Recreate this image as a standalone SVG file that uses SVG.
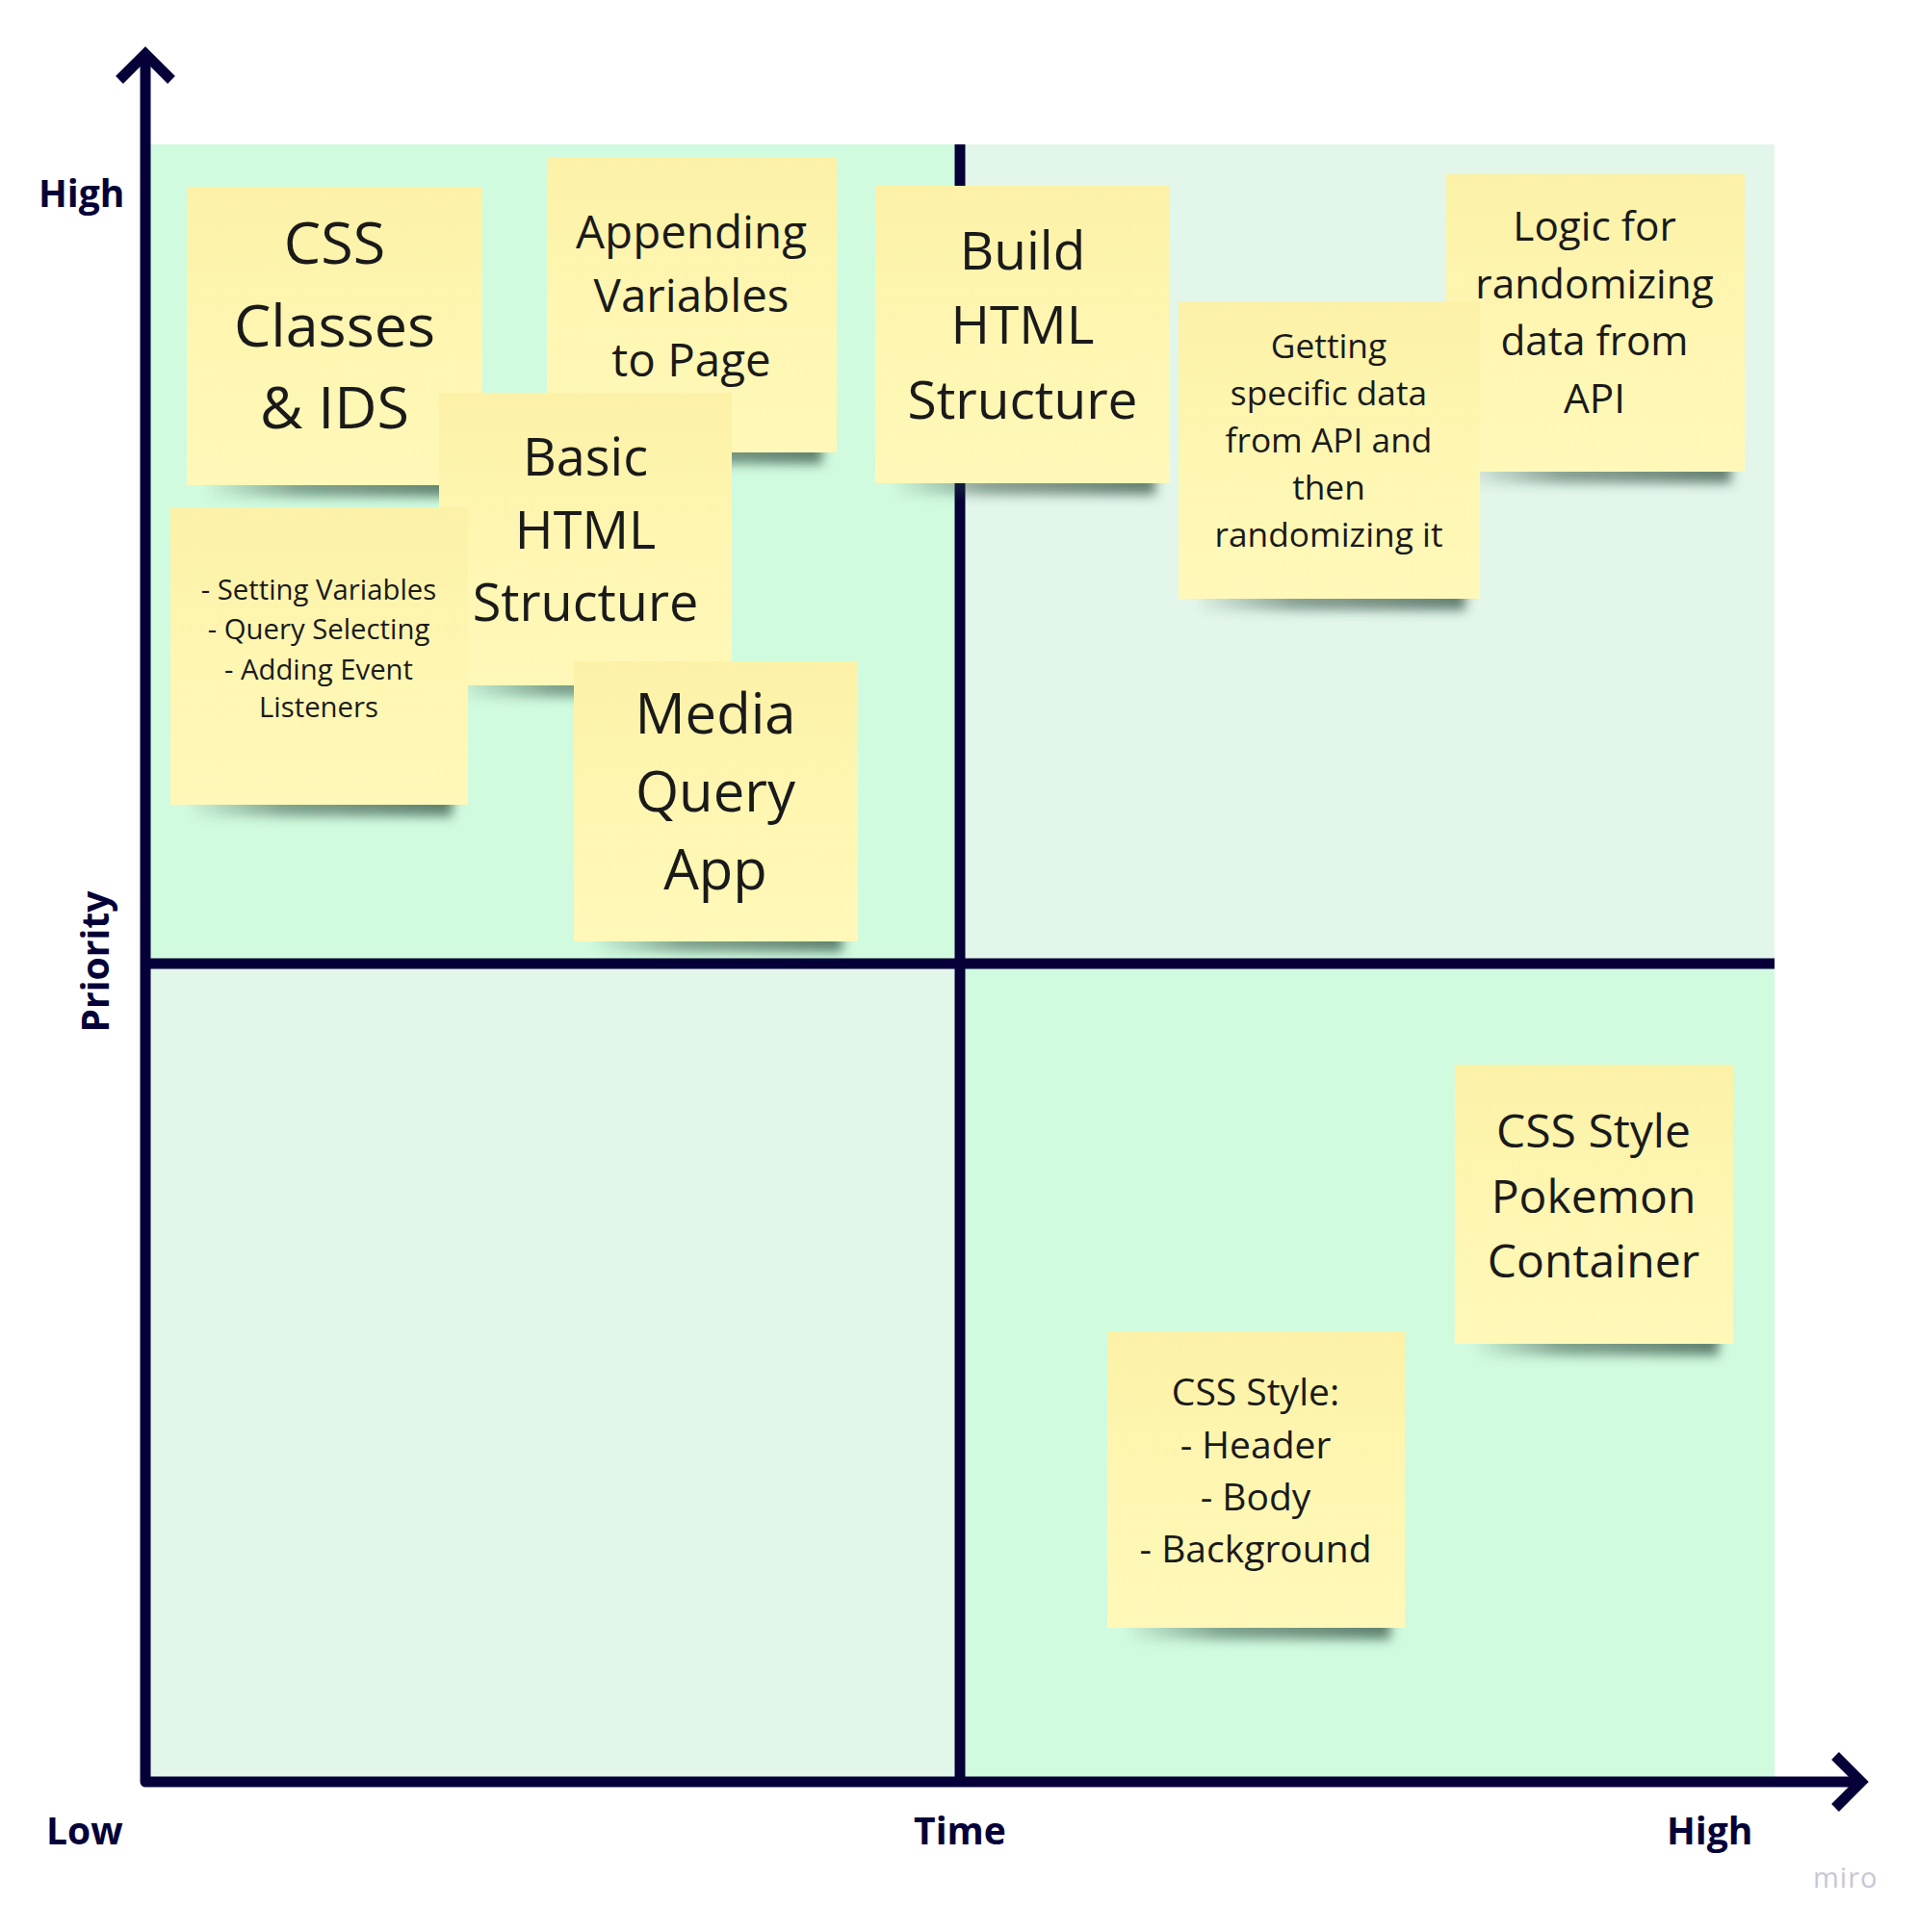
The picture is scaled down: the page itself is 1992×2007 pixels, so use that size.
<svg xmlns="http://www.w3.org/2000/svg" width="1992" height="2007" viewBox="0 0 1992 2007">
  <defs>
    <linearGradient id="paper" x1="0" y1="0" x2="0" y2="1">
      <stop offset="0" stop-color="#fcf1a7"/>
      <stop offset="0.5" stop-color="#fef6b1"/>
      <stop offset="1" stop-color="#fff8b8"/>
    </linearGradient>
    <linearGradient id="shade" x1="0" y1="0" x2="1" y2="0">
      <stop offset="0" stop-color="#2c4a3d" stop-opacity="0.05"/>
      <stop offset="0.35" stop-color="#2c4a3d" stop-opacity="0.5"/>
      <stop offset="1" stop-color="#2c4a3d" stop-opacity="0.7"/>
    </linearGradient>
    <filter id="soft" x="-20%" y="-200%" width="140%" height="500%">
      <feGaussianBlur stdDeviation="6"/>
    </filter>
  </defs>
  <style>
    .axis { fill: none; stroke: #050038; stroke-width: 11; }
    .label { font-family: "Open Sans", "Liberation Sans", sans-serif; font-weight: 700; font-size: 39px; fill: #050038; }
    .note { fill: url(#paper); }
    .shadow { fill: url(#shade); filter: url(#soft); }
    .txt { font-family: "Open Sans", "Liberation Sans", sans-serif; fill: #1a1a1a; text-anchor: middle; }
    .brand { font-family: "Open Sans", "Liberation Sans", sans-serif; font-size: 29px; fill: #c8c7d3; letter-spacing: 1px; }
  </style>

  <rect width="1992" height="2007" fill="#ffffff"/>

  <!-- quadrants -->
  <g id="quadrants">
    <rect x="151" y="150" width="846" height="851" fill="#d1fbdf"/>
    <rect x="997" y="150" width="846" height="851" fill="#e3f6ea"/>
    <rect x="151" y="1001" width="846" height="850" fill="#e3f6ea"/>
    <rect x="997" y="1001" width="846" height="850" fill="#d1fbdf"/>
  </g>

  <!-- axes and dividers -->
  <g id="connectors">
    <path class="axis" d="M151,56 V1851 H1933" stroke-linejoin="round"/>
    <path class="axis" d="M124,83 L151,56 L178,83"/>
    <path class="axis" d="M1906,1824 L1933,1851 L1906,1878"/>
    <line class="axis" x1="997" y1="150" x2="997" y2="1851"/>
    <line class="axis" x1="151" y1="1001" x2="1843" y2="1001"/>
  </g>

  <!-- axis labels -->
  <g id="labels">
    <text class="label" x="40" y="215">High</text>
    <text class="label" transform="translate(113,999) rotate(-90)" text-anchor="middle">Priority</text>
    <text class="label" x="48" y="1916">Low</text>
    <text class="label" x="997" y="1916" text-anchor="middle">Time</text>
    <text class="label" x="1731" y="1916">High</text>
    <text class="brand" x="1883" y="1961">miro</text>
  </g>

  <!-- sticky notes -->
  <g id="note-css-classes">
    <rect class="shadow" x="218" y="492" width="268" height="24"/>
    <rect class="note" x="194" y="194" width="307" height="310"/>
    <text class="txt" font-size="61" x="347.5"><tspan x="347.5" y="274">CSS</tspan><tspan x="347.5" y="360">Classes</tspan><tspan x="347.5" y="445">&amp; IDS</tspan></text>
  </g>

  <g id="note-appending">
    <rect class="shadow" x="592" y="458" width="262" height="24"/>
    <rect class="note" x="568" y="164" width="301" height="306"/>
    <text class="txt" font-size="47.5" x="718"><tspan x="718" y="258">Appending</tspan><tspan x="718" y="324">Variables</tspan><tspan x="718" y="391">to Page</tspan></text>
  </g>

  <g id="note-basic-html">
    <rect class="shadow" x="480" y="700" width="265" height="24"/>
    <rect class="note" x="456" y="408" width="304" height="304"/>
    <text class="txt" font-size="54" x="608"><tspan x="608" y="494">Basic</tspan><tspan x="608" y="570">HTML</tspan><tspan x="608" y="645">Structure</tspan></text>
  </g>

  <g id="note-setting-variables">
    <rect class="shadow" x="200" y="824" width="270" height="24"/>
    <rect class="note" x="177" y="527" width="309" height="309"/>
    <text class="txt" font-size="29.3" x="331"><tspan x="331" y="623">- Setting Variables</tspan><tspan x="331" y="664">- Query Selecting</tspan><tspan x="331" y="705.5">- Adding Event</tspan><tspan x="331" y="745">Listeners</tspan></text>
  </g>

  <g id="note-media-query">
    <rect class="shadow" x="620" y="965" width="255" height="24"/>
    <rect class="note" x="596" y="687" width="295" height="291"/>
    <text class="txt" font-size="58" x="743"><tspan x="743" y="762">Media</tspan><tspan x="743" y="843">Query</tspan><tspan x="743" y="923.5">App</tspan></text>
  </g>

  <g id="note-build-html">
    <rect class="shadow" x="933" y="490" width="267" height="24"/>
    <rect class="note" x="909" y="193" width="306" height="309"/>
    <text class="txt" font-size="55" x="1062"><tspan x="1062" y="280">Build</tspan><tspan x="1062" y="357">HTML</tspan><tspan x="1062" y="435">Structure</tspan></text>
  </g>

  <g id="note-logic">
    <rect class="shadow" x="1526" y="478" width="272" height="24"/>
    <rect class="note" x="1502" y="181" width="310" height="309"/>
    <text class="txt" font-size="42.3" x="1656"><tspan x="1656" y="250">Logic for</tspan><tspan x="1656" y="309.5">randomizing</tspan><tspan x="1656" y="369">data from</tspan><tspan x="1656" y="428.5">API</tspan></text>
  </g>

  <g id="note-getting-data">
    <rect class="shadow" x="1248" y="610" width="274" height="24"/>
    <rect class="note" x="1224" y="313" width="313" height="309"/>
    <text class="txt" font-size="35.3" x="1380"><tspan x="1380" y="372">Getting</tspan><tspan x="1380" y="420.5">specific data</tspan><tspan x="1380" y="470">from API and</tspan><tspan x="1380" y="518.5">then</tspan><tspan x="1380" y="568">randomizing it</tspan></text>
  </g>

  <g id="note-pokemon-container">
    <rect class="shadow" x="1535" y="1384" width="250" height="24"/>
    <rect class="note" x="1511" y="1106" width="289" height="290"/>
    <text class="txt" font-size="48" x="1655"><tspan x="1655" y="1192">CSS Style</tspan><tspan x="1655" y="1259.5">Pokemon</tspan><tspan x="1655" y="1327">Container</tspan></text>
  </g>

  <g id="note-css-style">
    <rect class="shadow" x="1174" y="1679" width="270" height="24"/>
    <rect class="note" x="1150" y="1383" width="309" height="308"/>
    <text class="txt" font-size="39" x="1304"><tspan x="1304" y="1460">CSS Style:</tspan><tspan x="1304" y="1515">- Header</tspan><tspan x="1304" y="1569">- Body</tspan><tspan x="1304" y="1623">- Background</tspan></text>
  </g>
</svg>
